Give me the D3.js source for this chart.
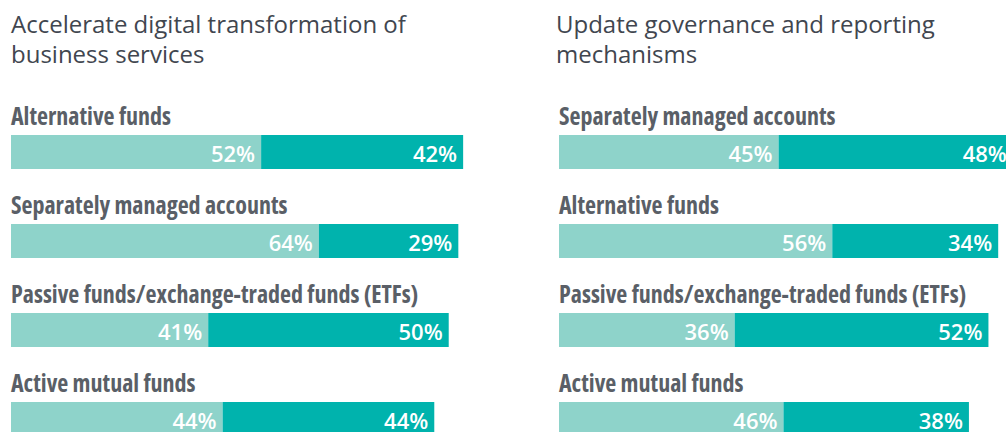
<!DOCTYPE html>
<html>
<head>
<meta charset="utf-8">
<script src="https://d3js.org/d3.v7.min.js"></script>
<style>
    body { margin: 0; background: #fff; }
    .title { font: 24px "Open Sans", sans-serif; fill: #41464f; }
    .cat { font-family: "Open Sans", sans-serif; font-weight: 700; font-size: 24px; font-stretch: 77%; fill: #5a5f67; }
    .val { font-family: "Open Sans", sans-serif; font-size: 22px; font-weight: 600; fill: #fff; text-anchor: end; }
</style>
</head>
<body>
<svg width="1006" height="432"></svg>
<script>
    var leftTitle = ["Accelerate digital transformation of", "business services"];
    var leftCategories = ["Alternative funds", "Separately managed accounts", "Passive funds/exchange-traded funds (ETFs)", "Active mutual funds"];
    var leftFirst = [52, 64, 41, 44];
    var leftSecond = [42, 29, 50, 44];

    var rightTitle = ["Update governance and reporting", "mechanisms"];
    var rightCategories = ["Separately managed accounts", "Alternative funds", "Passive funds/exchange-traded funds (ETFs)", "Active mutual funds"];
    var rightFirst = [45, 56, 36, 46];
    var rightSecond = [48, 34, 52, 38];

    var colors = ["#8ed3ca", "#00b3ad"];

    var svg = d3.select("svg");

    function panel(x0, titleX, pxWidth, title, cats, first, second) {
        var g = svg.append("g").attr("transform", "translate(" + x0 + ",0)");

        var x = d3.scaleLinear().domain([0, 100]).range([0, pxWidth]);
        var y = d3.scaleBand().domain(cats).range([135, 135 + 89 * cats.length]);

        g.selectAll(".title")
            .data(title)
            .enter().append("text")
            .attr("class", "title")
            .attr("x", titleX - x0)
            .attr("y", function (d, i) { return 33 + i * 30; })
            .text(function (d) { return d; });

        var rows = cats.map(function (c, i) {
            return { cat: c, a: first[i], b: second[i] };
        });

        var row = g.selectAll(".row")
            .data(rows)
            .enter().append("g")
            .attr("class", "row")
            .attr("transform", function (d) { return "translate(0," + y(d.cat) + ")"; });

        row.append("text")
            .attr("class", "cat")
            .attr("x", 0)
            .attr("y", -10)
            .text(function (d) { return d.cat; });

        row.append("rect")
            .attr("x", x(0))
            .attr("width", function (d) { return x(d.a); })
            .attr("height", 34)
            .attr("fill", colors[0]);

        row.append("rect")
            .attr("x", function (d) { return x(d.a); })
            .attr("width", function (d) { return x(d.b); })
            .attr("height", 34)
            .attr("fill", colors[1]);

        row.append("text")
            .attr("class", "val")
            .attr("x", function (d) { return x(d.a) - 6; })
            .attr("y", 27)
            .text(function (d) { return d.a + "%"; });

        row.append("text")
            .attr("class", "val")
            .attr("x", function (d) { return x(d.a + d.b) - 6; })
            .attr("y", 27)
            .text(function (d) { return d.b + "%"; });
    }

    panel(11, 11, 481, leftTitle, leftCategories, leftFirst, leftSecond);
    panel(559, 556, 488, rightTitle, rightCategories, rightFirst, rightSecond);
</script>
</body>
</html>
